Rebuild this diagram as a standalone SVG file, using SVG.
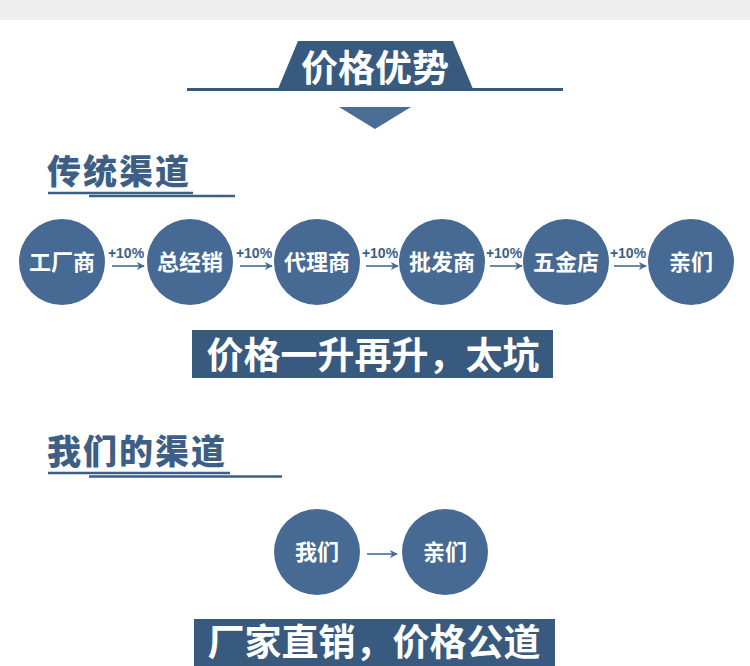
<svg xmlns="http://www.w3.org/2000/svg" width="750" height="666" viewBox="0 0 750 666">
<defs>
<style>
.node{fill:#466a93}
.nt{fill:#fff;font-family:"Noto Sans CJK SC",sans-serif;font-weight:bold;font-size:22px;text-anchor:middle}
.pct{fill:#3d5f85;font-family:"Liberation Sans","Noto Sans CJK SC",sans-serif;font-size:14px;font-weight:bold;text-anchor:middle}
.conn{stroke:#466a93;stroke-width:1.6;fill:none;marker-end:url(#ah)}
.head{fill:#3d5f85;font-family:"Noto Sans CJK SC",sans-serif;font-weight:900;font-size:34px;letter-spacing:2px}
.ul{stroke:#3d5f85;stroke-width:2.5}
.banner{fill:#385a7e}
.bt{fill:#fff;font-family:"Noto Sans CJK SC",sans-serif;font-weight:bold;font-size:37px;text-anchor:middle}
</style>
<marker id="ah" viewBox="0 0 10 10" refX="9" refY="5" markerWidth="8" markerHeight="8" markerUnits="userSpaceOnUse" orient="auto"><path d="M0,0 L10,5 L0,10 L3,5 Z" fill="#466a93"/></marker>
</defs>
<rect x="0" y="0" width="750" height="20" fill="#eeeeee"/>
<g id="title">
<line x1="187" y1="89.5" x2="563" y2="89.5" stroke="#385a7e" stroke-width="3"/>
<polygon points="298,41 453,41 473,89 278,89" fill="#385a7e"/>
<text x="375" y="82" class="bt">价格优势</text>
<polygon points="339,107 411,107 375,129" fill="#4a6d96"/>
</g>
<g id="heading1">
<text x="47" y="184" class="head">传统渠道</text>
<line class="ul" x1="48" y1="193" x2="193" y2="193"/>
<line class="ul" x1="89" y1="196" x2="235" y2="196"/>
</g>
<g id="n1"><circle class="node" cx="62" cy="262" r="43"/><text class="nt" x="62" y="270">工厂商</text></g>
<g id="n2"><circle class="node" cx="190" cy="262" r="43"/><text class="nt" x="190" y="270">总经销</text></g>
<g id="n3"><circle class="node" cx="317" cy="262" r="43"/><text class="nt" x="317" y="270">代理商</text></g>
<g id="n4"><circle class="node" cx="442" cy="262" r="43"/><text class="nt" x="442" y="270">批发商</text></g>
<g id="n5"><circle class="node" cx="566" cy="262" r="43"/><text class="nt" x="566" y="270">五金店</text></g>
<g id="n6"><circle class="node" cx="691" cy="262" r="43"/><text class="nt" x="691" y="270">亲们</text></g>
<g id="connectors">
<line class="conn" x1="112" y1="266" x2="144" y2="266"/>
<line class="conn" x1="240" y1="266" x2="272" y2="266"/>
<line class="conn" x1="366" y1="266" x2="398" y2="266"/>
<line class="conn" x1="490" y1="266" x2="522" y2="266"/>
<line class="conn" x1="614" y1="266" x2="646" y2="266"/>
<text class="pct" x="126" y="258">+10%</text>
<text class="pct" x="254" y="258">+10%</text>
<text class="pct" x="380" y="258">+10%</text>
<text class="pct" x="504" y="258">+10%</text>
<text class="pct" x="628" y="258">+10%</text>
<line class="conn" x1="367" y1="554" x2="397" y2="554"/>
</g>
<g id="banner1">
<rect class="banner" x="192" y="330" width="361" height="48"/>
<text class="bt" x="373" y="369">价格一升再升，太坑</text>
</g>
<g id="heading2">
<text x="47" y="464" class="head">我们的渠道</text>
<line class="ul" x1="48" y1="473" x2="230" y2="473"/>
<line class="ul" x1="89" y1="476.5" x2="282" y2="476.5"/>
</g>
<g id="m1"><circle class="node" cx="317" cy="552" r="43"/><text class="nt" x="317" y="560">我们</text></g>
<g id="m2"><circle class="node" cx="445" cy="552" r="43"/><text class="nt" x="445" y="560">亲们</text></g>
<g id="banner2">
<rect class="banner" x="194" y="619" width="361" height="47"/>
<text class="bt" x="374" y="656" font-size="36">厂家直销，价格公道</text>
</g>
</svg>
